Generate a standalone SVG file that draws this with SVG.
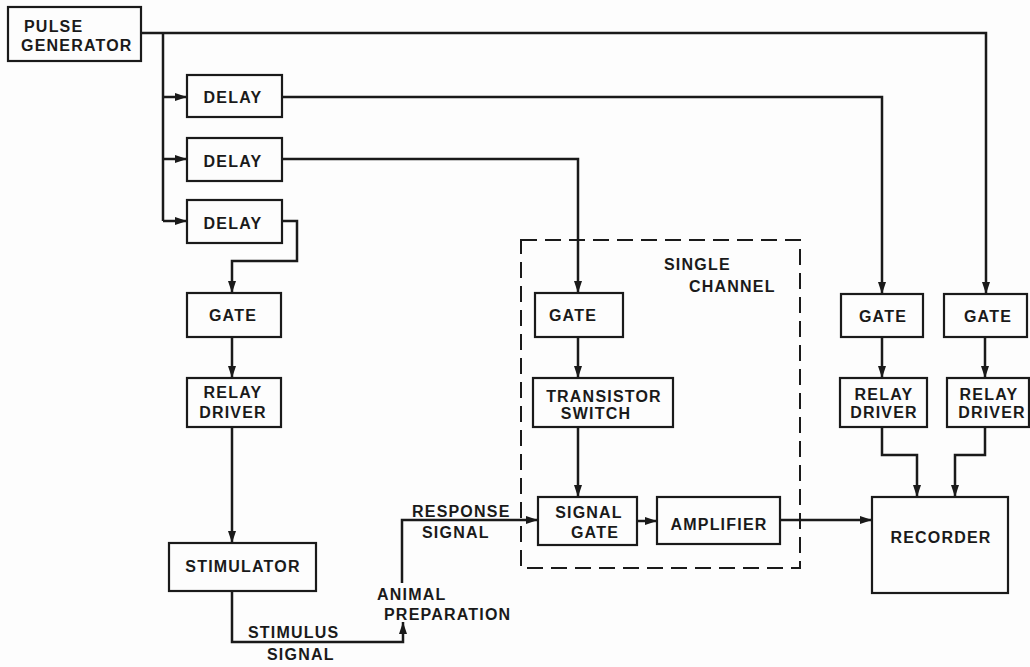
<svg xmlns="http://www.w3.org/2000/svg" width="1030" height="667" viewBox="0 0 1030 667">
<style>
.box{fill:none;stroke:#1a1a1a;stroke-width:2.2}
.ln{fill:none;stroke:#1a1a1a;stroke-width:2.5;stroke-linejoin:miter}
.dash{fill:none;stroke:#1a1a1a;stroke-width:2;stroke-dasharray:16 8}
text{font-family:"Liberation Sans",Arial,sans-serif;font-weight:bold;font-size:16px;fill:#1a1a1a;letter-spacing:1.2px}
.c{text-anchor:middle}
</style>
<defs>
<marker id="ah" viewBox="0 0 12 8" refX="12" refY="4" markerWidth="12" markerHeight="8" markerUnits="userSpaceOnUse" orient="auto">
<path d="M0,0 L12,4 L0,8 z" fill="#1a1a1a"/>
</marker>
</defs>
<rect width="1030" height="667" fill="#fdfdfd"/>

<g id="connectors">
<path class="ln" d="M141,33 H986 V294" marker-end="url(#ah)"/>
<path class="ln" d="M163,33 V221"/>
<path class="ln" d="M163,97 H187" marker-end="url(#ah)"/>
<path class="ln" d="M163,159 H187" marker-end="url(#ah)"/>
<path class="ln" d="M163,221 H187" marker-end="url(#ah)"/>
<path class="ln" d="M282,97 H882 V294" marker-end="url(#ah)"/>
<path class="ln" d="M282,159 H578 V293" marker-end="url(#ah)"/>
<path class="ln" d="M282,221 H297 V261 H232 V293" marker-end="url(#ah)"/>
<path class="ln" d="M232,337 V378" marker-end="url(#ah)"/>
<path class="ln" d="M232,427 V543" marker-end="url(#ah)"/>
<path class="ln" d="M232,591 V642 H403 V622" marker-end="url(#ah)"/>
<path class="ln" d="M402,583 V520 H538" marker-end="url(#ah)"/>
<path class="ln" d="M578,337 V378" marker-end="url(#ah)"/>
<path class="ln" d="M578,427 V497" marker-end="url(#ah)"/>
<path class="ln" d="M637,521 H657" marker-end="url(#ah)"/>
<path class="ln" d="M780,520 H872" marker-end="url(#ah)"/>
<path class="ln" d="M882,337 V378" marker-end="url(#ah)"/>
<path class="ln" d="M985,337 V378" marker-end="url(#ah)"/>
<path class="ln" d="M882,427 V455 H917 V497" marker-end="url(#ah)"/>
<path class="ln" d="M985,427 V455 H955 V497" marker-end="url(#ah)"/>
</g>

<g id="single-channel">
<rect class="dash" x="521" y="240" width="279" height="328"/>
<text x="664" y="270">SINGLE</text>
<text x="689" y="292">CHANNEL</text>
</g>

<g id="pulse-generator">
<rect class="box" x="8" y="7" width="133" height="54"/>
<text x="24" y="32">PULSE</text>
<text x="21" y="51">GENERATOR</text>
</g>
<g id="delay1">
<rect class="box" x="187" y="75" width="95" height="42"/>
<text class="c" x="233" y="103">DELAY</text>
</g>
<g id="delay2">
<rect class="box" x="187" y="138" width="95" height="43"/>
<text class="c" x="233" y="167">DELAY</text>
</g>
<g id="delay3">
<rect class="box" x="187" y="200" width="95" height="43"/>
<text class="c" x="233" y="229">DELAY</text>
</g>
<g id="gate-left">
<rect class="box" x="187" y="293" width="94" height="44"/>
<text class="c" x="233" y="321">GATE</text>
</g>
<g id="relay-driver-left">
<rect class="box" x="187" y="378" width="94" height="49"/>
<text class="c" x="233" y="398">RELAY</text>
<text class="c" x="233" y="418">DRIVER</text>
</g>
<g id="stimulator">
<rect class="box" x="169" y="543" width="147" height="48"/>
<text class="c" x="243" y="572">STIMULATOR</text>
</g>
<g id="labels">
<text x="248" y="638">STIMULUS</text>
<text x="267" y="660">SIGNAL</text>
<text x="377" y="600">ANIMAL</text>
<text x="384" y="620">PREPARATION</text>
<text x="412" y="517">RESPONSE</text>
<text x="422" y="538">SIGNAL</text>
</g>
<g id="gate-channel">
<rect class="box" x="535" y="293" width="88" height="44"/>
<text class="c" x="573" y="321">GATE</text>
</g>
<g id="transistor-switch">
<rect class="box" x="533" y="378" width="140" height="49"/>
<text class="c" x="604" y="402">TRANSISTOR</text>
<text class="c" x="596" y="419">SWITCH</text>
</g>
<g id="signal-gate">
<rect class="box" x="538" y="497" width="99" height="48"/>
<text class="c" x="589" y="518">SIGNAL</text>
<text class="c" x="595" y="538">GATE</text>
</g>
<g id="amplifier">
<rect class="box" x="657" y="497" width="123" height="47"/>
<text class="c" x="719" y="530">AMPLIFIER</text>
</g>
<g id="gate-a">
<rect class="box" x="841" y="294" width="82" height="43"/>
<text class="c" x="883" y="322">GATE</text>
</g>
<g id="gate-b">
<rect class="box" x="944" y="294" width="83" height="43"/>
<text class="c" x="988" y="322">GATE</text>
</g>
<g id="relay-driver-a">
<rect class="box" x="840" y="378" width="87" height="49"/>
<text class="c" x="884" y="400">RELAY</text>
<text class="c" x="884" y="418">DRIVER</text>
</g>
<g id="relay-driver-b">
<rect class="box" x="947" y="378" width="82" height="49"/>
<text class="c" x="989" y="400">RELAY</text>
<text class="c" x="992" y="418">DRIVER</text>
</g>
<g id="recorder">
<rect class="box" x="872" y="497" width="136" height="96"/>
<text class="c" x="941" y="543">RECORDER</text>
</g>
</svg>
